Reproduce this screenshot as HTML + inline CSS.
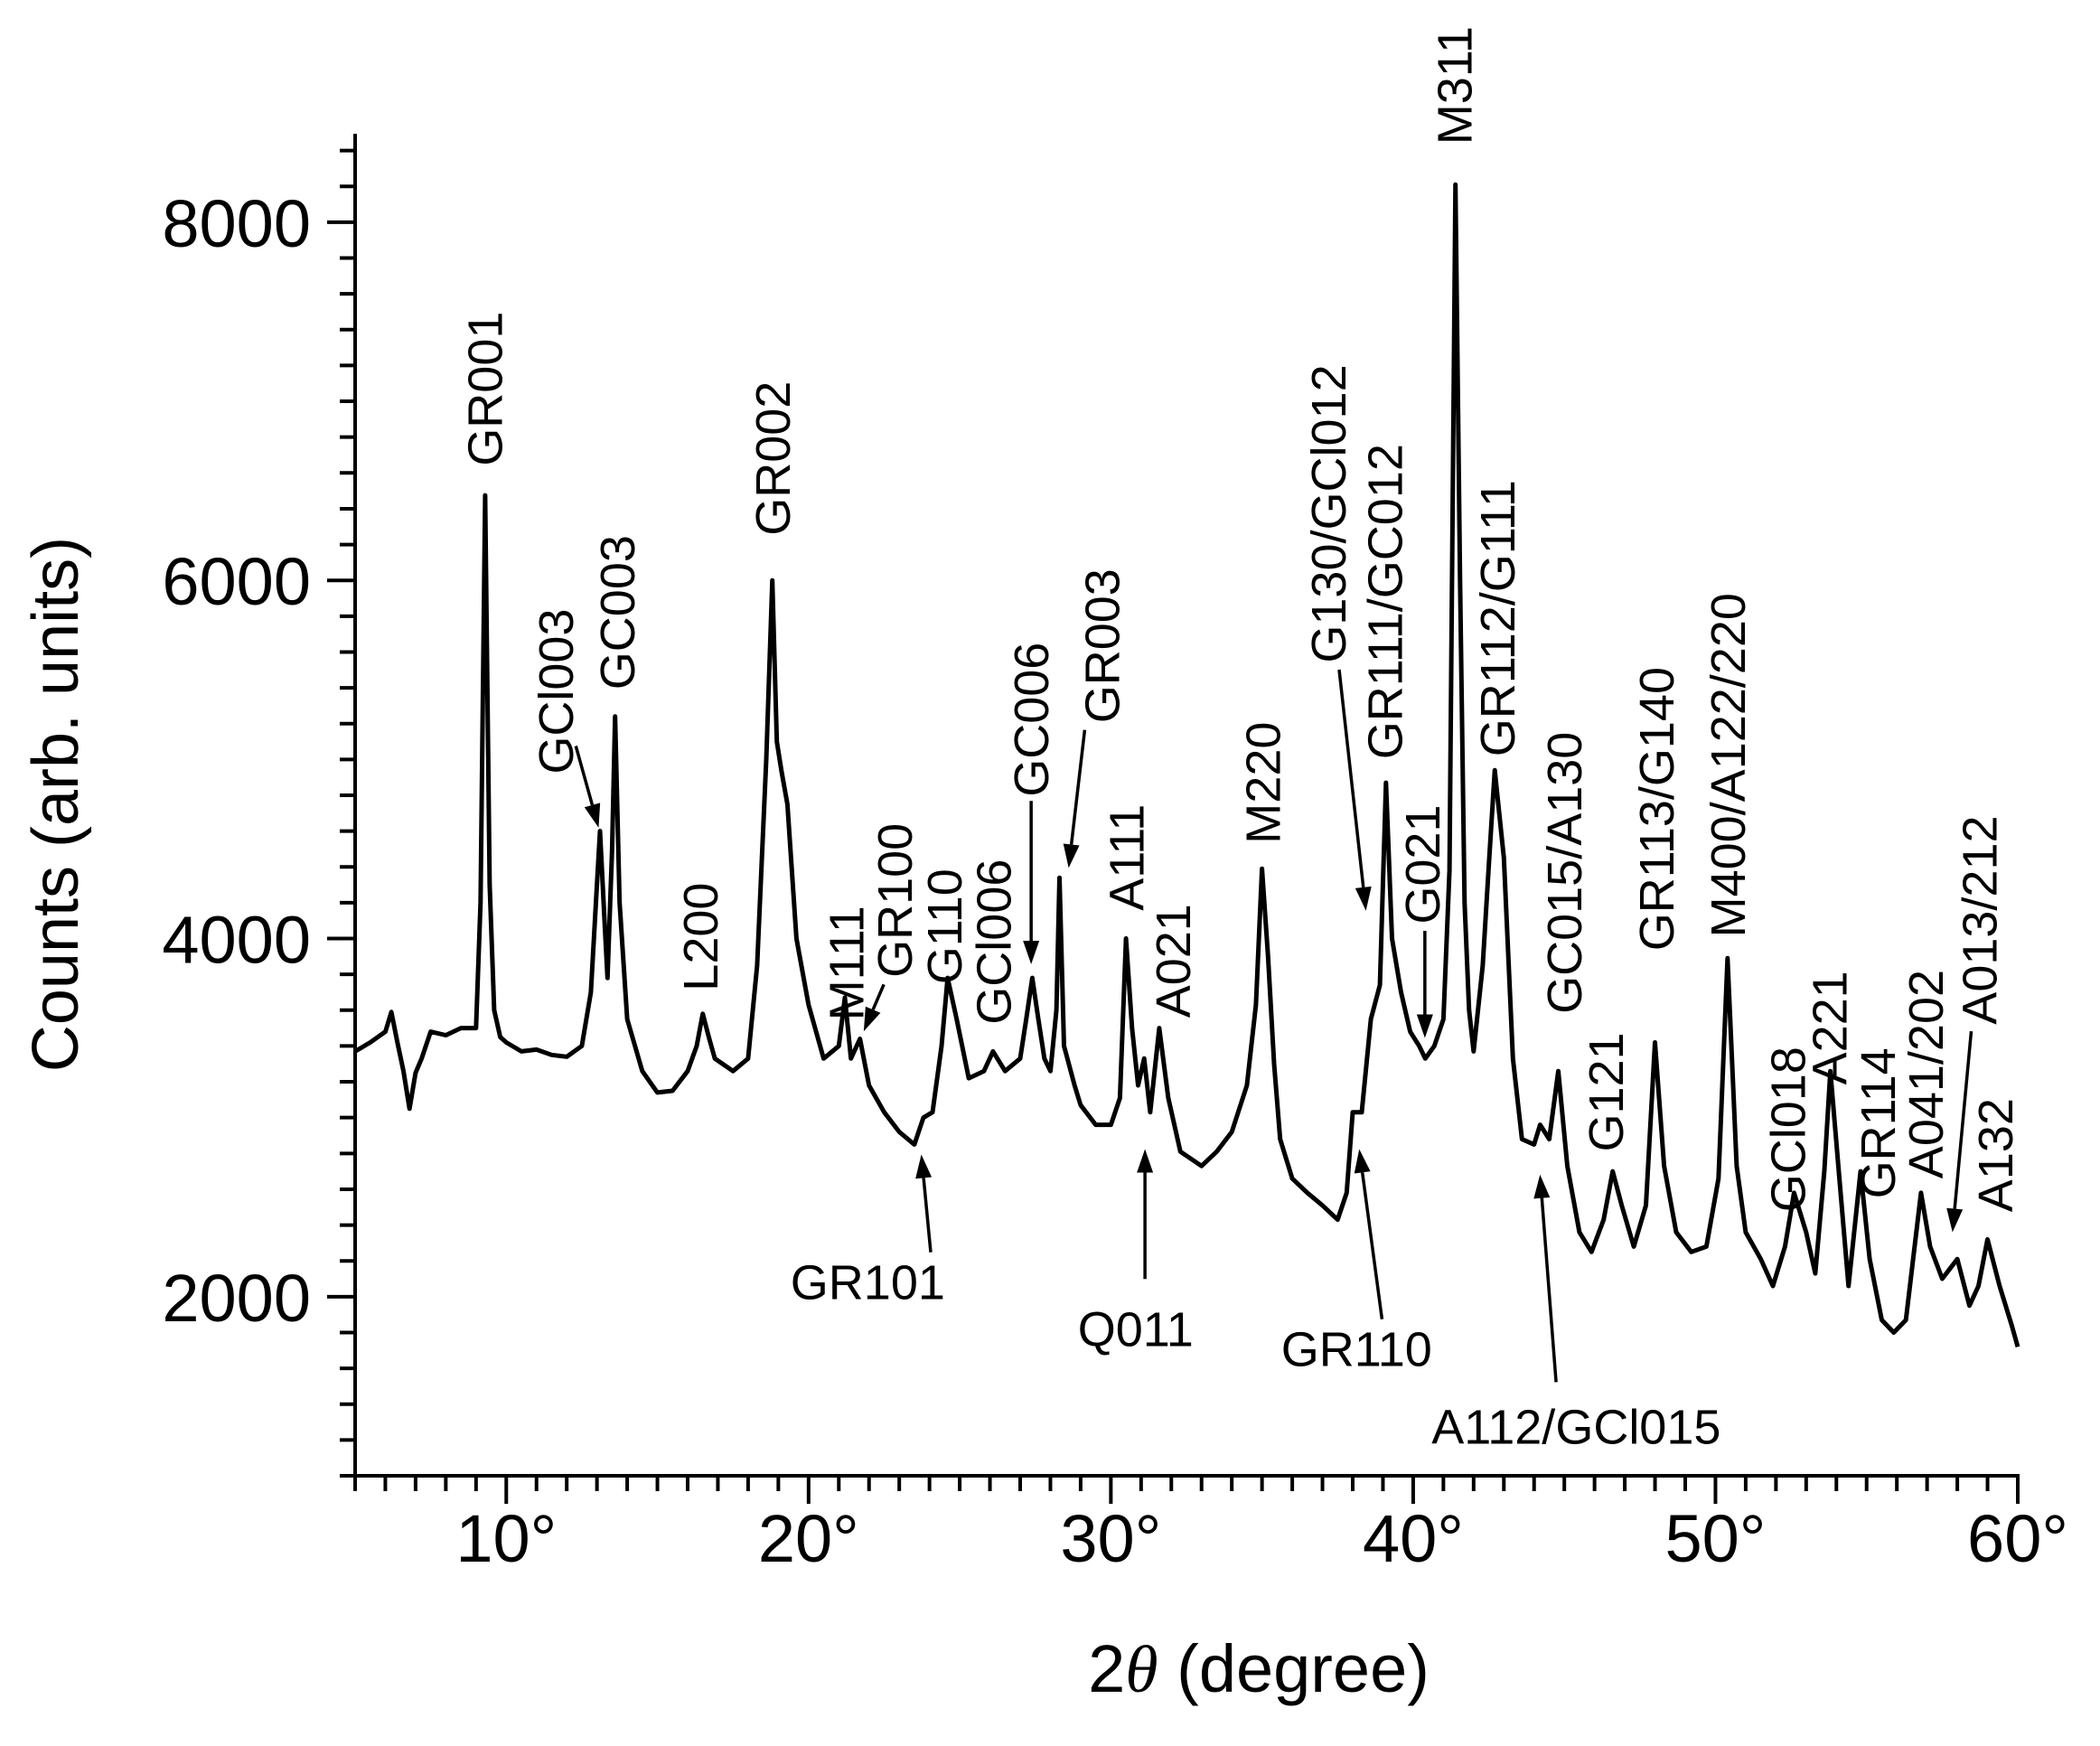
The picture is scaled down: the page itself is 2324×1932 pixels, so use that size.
<!DOCTYPE html>
<html><head><meta charset="utf-8"><style>
html,body{margin:0;padding:0;background:#fff;}
svg{display:block;font-family:"Liberation Sans",Arial,sans-serif;}
</style></head><body>
<svg id="chart" width="2324" height="1932" viewBox="0 0 2324 1932" xmlns="http://www.w3.org/2000/svg">
<g id="axes"></g>
<g id="series"></g>
<g id="labels"></g>
<text x="0" y="0" font-size="72" text-anchor="middle" transform="translate(86,890) rotate(-90)">Counts (arb. units)</text>
<text x="1393" y="1872" font-size="74" text-anchor="middle">2<tspan font-style="italic" font-family="Liberation Serif">θ</tspan> (degree)</text>
</svg>
<script>
const twoTheta = [5,5.5,6,6.2,6.4,6.6,6.8,7.0,7.2,7.5,8,8.5,9.0,9.15,9.3,9.45,9.6,9.8,10,10.5,11,11.5,12,12.5,12.8,13.0,13.1,13.25,13.35,13.5,13.6,13.75,14.0,14.5,15,15.5,16,16.3,16.5,16.7,16.9,17.5,18.0,18.3,18.6,18.8,18.95,19.1,19.3,19.6,20,20.5,21,21.2,21.4,21.7,22,22.5,23,23.5,23.8,24.1,24.4,24.6,24.9,25.3,25.8,26.1,26.5,27,27.2,27.4,27.6,27.8,28.0,28.2,28.3,28.45,28.8,29,29.5,30,30.3,30.5,30.7,30.9,31.1,31.3,31.6,31.9,32.3,33,33.5,34,34.5,34.8,35.0,35.2,35.4,35.6,36,36.5,37,37.5,37.8,38,38.3,38.6,38.9,39.1,39.3,39.6,39.9,40.2,40.4,40.7,41.0,41.2,41.4,41.55,41.7,41.85,42.0,42.3,42.5,42.7,43,43.3,43.6,44,44.2,44.5,44.8,45.1,45.5,45.9,46.3,46.6,46.9,47.3,47.7,48.0,48.3,48.7,49.2,49.7,50.1,50.4,50.7,51.0,51.5,51.9,52.3,52.6,53.0,53.3,53.6,53.8,54.1,54.4,54.8,55.1,55.5,55.9,56.3,56.6,56.8,57.1,57.5,58.0,58.4,58.7,59.0,59.4,59.8,60];
const counts = [3370,3420,3480,3590,3420,3260,3050,3250,3330,3480,3460,3500,3500,4200,6475,4300,3600,3450,3420,3370,3380,3350,3340,3400,3700,4300,4600,4100,3780,4500,5240,4200,3550,3260,3140,3150,3260,3400,3580,3450,3330,3260,3330,3850,5000,6000,5100,4940,4750,4000,3630,3330,3400,3670,3330,3440,3180,3030,2920,2850,3000,3030,3400,3780,3550,3220,3260,3370,3260,3330,3550,3780,3550,3330,3260,3600,4340,3400,3180,3070,2960,2960,3110,4000,3500,3180,3330,3030,3500,3110,2810,2730,2810,2920,3180,3630,4390,3900,3300,2880,2660,2580,2510,2430,2580,3030,3030,3550,3740,4870,4000,3700,3480,3400,3330,3400,3550,4380,8210,6000,4200,3600,3370,3850,4400,4940,4450,3330,2880,2850,2960,2880,3260,2730,2360,2250,2430,2700,2510,2280,2510,3420,2730,2360,2250,2280,2660,3890,2730,2360,2210,2060,2280,2580,2360,2130,2700,3260,2660,2060,2700,2210,1870,1800,1870,2300,2580,2280,2100,2210,1950,2060,2320,2060,1840,1720];
const xTickLabels = ["10°","20°","30°","40°","50°","60°"];
const xTickValues = [10,20,30,40,50,60];
const yTickLabels = ["2000","4000","6000","8000"];
const yTickValues = [2000,4000,6000,8000];

const NS="http://www.w3.org/2000/svg";
const X0=393,X1=2233,Y0=1633,Y1=148;
const xmin=5,xmax=60,ymin=1000,ymax=8494;
function sx(v){return X0+(v-xmin)/(xmax-xmin)*(X1-X0);}
function sy(v){return Y0-(v-ymin)/(ymax-ymin)*(Y0-Y1);}
function mk(tag,attrs,parent){const e=document.createElementNS(NS,tag);for(const k in attrs)e.setAttribute(k,attrs[k]);parent.appendChild(e);return e;}

const axes=document.getElementById('axes');
let e=mk('line',{x1:X0,y1:Y0,x2:X1+2,y2:Y0,stroke:'#000','stroke-width':4},axes);


e=mk('line',{x1:X0,y1:Y0+2,x2:X0,y2:Y1,stroke:'#000','stroke-width':4},axes);


for(let d=5;d<=60;d++){
  const major=d%10===0;
  e=mk('line',{x1:sx(d),y1:Y0,x2:sx(d),y2:Y0+(major?31:17),stroke:'#000','stroke-width':4},axes);
  
  
}
xTickValues.forEach((v,i)=>{
  e=mk('text',{x:sx(v),y:1728,'font-size':74,'text-anchor':'middle'},axes);
  e.textContent=xTickLabels[i];
  
  
});
for(let c=1000;c<=8400;c+=200){
  const major=c%2000===0;
  e=mk('line',{x1:X0,y1:sy(c),x2:X0-(major?31:17),y2:sy(c),stroke:'#000','stroke-width':4},axes);
  
  
}
yTickValues.forEach((v,i)=>{
  e=mk('text',{x:344,y:sy(v)+27,'font-size':74,'text-anchor':'end'},axes);
  e.textContent=yTickLabels[i];
  
  
});

const series=document.getElementById('series');
let d='';
twoTheta.forEach((t,i)=>{d+=(i?'L':'M')+sx(t).toFixed(1)+','+sy(counts[i]).toFixed(1);});
e=mk('path',{d:d,fill:'none',stroke:'#000','stroke-width':5,'stroke-linejoin':'round'},series);



const S=1.482;
const vLabels=[["GR001",362,348],["GCl003",415,578],["GC003",461,515],["L200",523,740],["GR002",577,400],["M111",632,762],["GR100",668,730],["G110",705,735],["GCl006",742,765],["GC006",770,595],["GR003",823,540],["A111",841,680],["A021",876,760],["M220",943,630],["G130/GCl012",992,495],["GR111/GC012",1034,567],["G021",1062,690],["M311",1086,108],["GR112/G111",1118,565],["GC015/A130",1168,757],["G121",1199,860],["GR113/G140",1237,710],["M400/A122/220",1290,700],["GCl018",1335,905],["A221",1366,810],["GR114",1402,895],["A041/202",1438,880],["A013/212",1478,765],["A132",1490,905]];
const labels=document.getElementById('labels');
vLabels.forEach(l=>{
  e=mk('text',{x:0,y:0,'font-size':54,transform:`translate(${(l[1]*S+19).toFixed(1)},${(l[2]*S).toFixed(1)}) rotate(-90)`},labels);
  e.textContent=l[0];
  
  
});
const hLabels=[["GR101",648,970],["Q011",848,1005],["GR110",1013,1020],["A112/GCl015",1177,1078]];
hLabels.forEach(l=>{
  e=mk('text',{x:l[1]*S,y:l[2]*S,'font-size':54,'text-anchor':'middle'},labels);
  e.textContent=l[0];
  
  
});
const arrows=[[430,557,447,618],[660,735,645,770],[695,935,688,862],[770,598,770,720],[810,545,798,648],[855,955,855,858],[1000,500,1020,680],[1032,985,1015,858],[1064,695,1064,775],[1162,1032,1150,877],[1472,770,1458,920]];
arrows.forEach(a=>{
  const x1=a[0]*S,y1=a[1]*S,x2=a[2]*S,y2=a[3]*S;
  const g=mk('g',{},labels);
  
  
  const ang=Math.atan2(y2-y1,x2-x1),L=26,W=9;
  const bx=x2-L*Math.cos(ang),by=y2-L*Math.sin(ang);
  mk('line',{x1:x1,y1:y1,x2:bx,y2:by,stroke:'#000','stroke-width':3.5},g);
  const px=-Math.sin(ang)*W,py=Math.cos(ang)*W;
  mk('polygon',{points:`${x2},${y2} ${bx+px},${by+py} ${bx-px},${by-py}`,fill:'#000'},g);
});
</script>
</body></html>
